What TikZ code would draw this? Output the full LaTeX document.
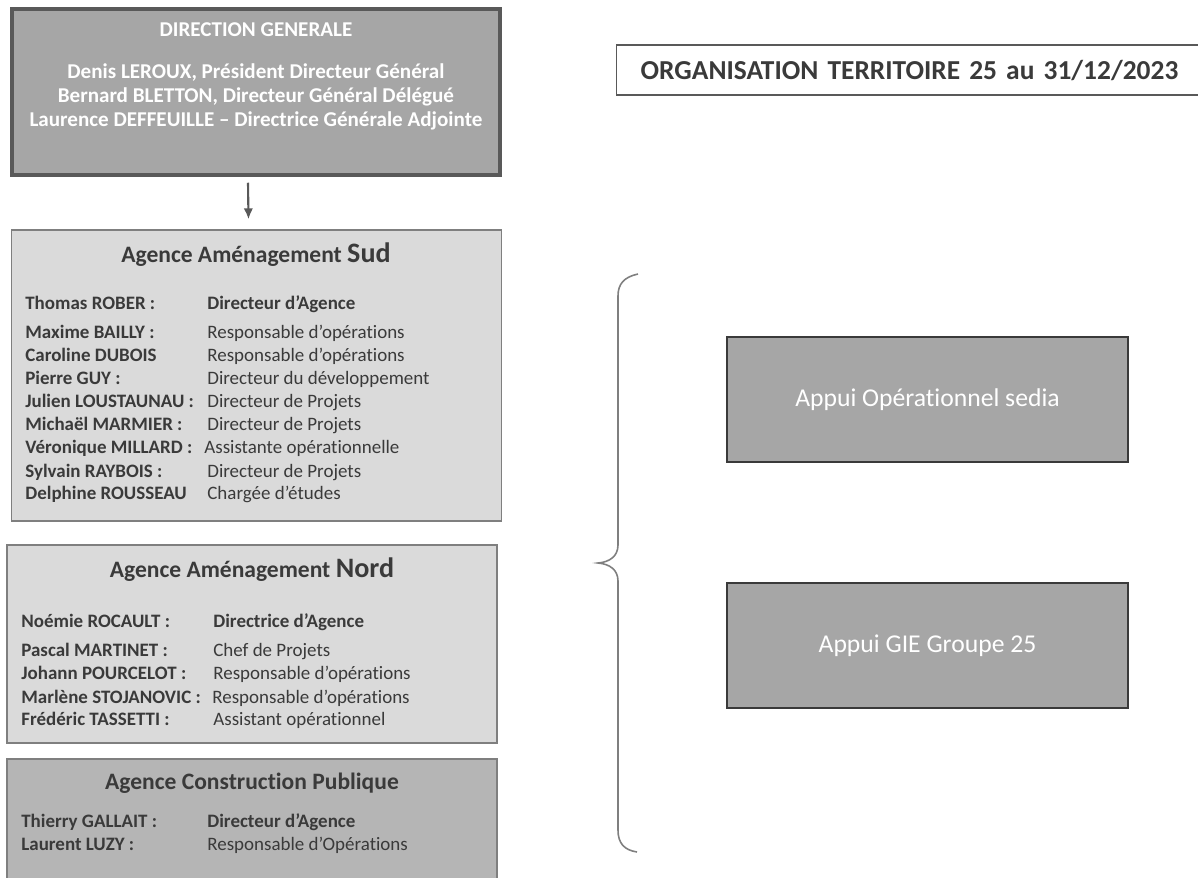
\documentclass[tikz,border=0pt]{standalone}
\usepackage{fontspec}
\setmainfont{Carlito}[Ligatures=NoCommon]
\usetikzlibrary{arrows.meta}
\definecolor{dgfill}{HTML}{A6A6A6}
\definecolor{dgline}{HTML}{595959}
\definecolor{palefill}{HTML}{DADADA}
\definecolor{midfill}{HTML}{B5B5B5}
\definecolor{boxline}{HTML}{7F7F7F}
\definecolor{ink}{HTML}{3A3A3A}
\begin{document}
\begin{tikzpicture}[x=0.02cm,y=-0.02cm,
		agence/.style={draw=boxline,line width=0.8pt,rectangle,inner sep=0pt,minimum width=9.8cm},
		appui/.style={draw=ink,line width=1.1pt,fill=dgfill,rectangle,minimum width=8.02cm,minimum height=2.5cm,text=white,font=\fontsize{14.6}{17}\selectfont},
		head/.style={inner sep=0pt,text=ink,font=\fontsize{13.4}{16}\selectfont\bfseries},
		nom/.style={anchor=west,inner sep=0pt,text height=.90em,text depth=.30em,text=ink,font=\fontsize{10.8}{13}\selectfont\bfseries},
		fct/.style={anchor=west,inner sep=0pt,text height=.90em,text depth=.30em,text=ink,font=\fontsize{10.8}{13}\selectfont}]
		\useasboundingbox (0,0) rectangle (1198,877);
		% direction
		\node (dg) at (256, 92) [draw=dgline,line width=2pt,fill=dgfill,rectangle,minimum width=9.76cm,minimum height=3.32cm] {};
		\node (dgtitre) at (256, 30) [text=white,font=\fontsize{12}{14}\selectfont\bfseries] {DIRECTION GENERALE};
		\node (dgnoms) at (256, 97) [text=white,align=center,font=\fontsize{12}{13.6}\selectfont\bfseries] {Denis LEROUX, Président Directeur Général\\Bernard BLETTON, Directeur Général Délégué\\Laurence DEFFEUILLE -- Directrice Générale Adjointe};
		% agences
		\node (sud) at (256.5, 375.5) [agence,fill=palefill,minimum height=5.82cm] {};
		\node (nord) at (252, 644) [agence,fill=palefill,minimum height=3.96cm] {};
		\node (cp) at (252, 824.5) [agence,fill=midfill,minimum height=2.62cm] {};
		\draw[dgline,line width=1.2pt,-{Latex[length=2.2mm,width=1.9mm]}] ([xshift=-0.16cm,yshift=-0.12cm]dg.south)--([xshift=-0.16cm,yshift=0.2cm]sud.north);
		% sud
		\node (sudtitre) at (256, 255) [head] {Agence Aménagement {\fontsize{16}{18}\selectfont Sud}};
		\node (sudn1) at (25, 304) [nom] {Thomas ROBER :};
		\node (sudf1) at (207, 304) [nom] {Directeur d’Agence};
		\node (sudn2) at (25, 333) [nom] {Maxime BAILLY :};
		\node (sudf2) at (207, 333) [fct] {Responsable d’opérations};
		\node (sudn3) at (25, 356) [nom] {Caroline DUBOIS};
		\node (sudf3) at (207, 356) [fct] {Responsable d’opérations};
		\node (sudn4) at (25, 379) [nom] {Pierre GUY :};
		\node (sudf4) at (207, 379) [fct] {Directeur du développement};
		\node (sudn5) at (25, 402) [nom] {Julien LOUSTAUNAU :};
		\node (sudf5) at (207, 402) [fct] {Directeur de Projets};
		\node (sudn6) at (25, 425) [nom] {Michaël MARMIER :};
		\node (sudf6) at (207, 425) [fct] {Directeur de Projets};
		\node (sudn7) at (25, 448) [nom] {Véronique MILLARD :};
		\node (sudf7) at (204, 448) [fct] {Assistante opérationnelle};
		\node (sudn8) at (25, 472) [nom] {Sylvain RAYBOIS :};
		\node (sudf8) at (207, 472) [fct] {Directeur de Projets};
		\node (sudn9) at (25, 494) [nom] {Delphine ROUSSEAU};
		\node (sudf9) at (207, 494) [fct] {Chargée d’études};
		% nord
		\node (nordtitre) at (252, 570) [head] {Agence Aménagement {\fontsize{16}{18}\selectfont Nord}};
		\node (nordn1) at (21, 622) [nom] {Noémie ROCAULT :};
		\node (nordf1) at (213, 622) [nom] {Directrice d’Agence};
		\node (nordn2) at (21, 651) [nom] {Pascal MARTINET :};
		\node (nordf2) at (213, 651) [fct] {Chef de Projets};
		\node (nordn3) at (21, 674) [nom] {Johann POURCELOT :};
		\node (nordf3) at (213, 674) [fct] {Responsable d’opérations};
		\node (nordn4) at (21, 698) [nom] {Marlène STOJANOVIC :};
		\node (nordf4) at (212, 698) [fct] {Responsable d’opérations};
		\node (nordn5) at (21, 720) [nom] {Frédéric TASSETTI :};
		\node (nordf5) at (213, 720) [fct] {Assistant opérationnel};
		% construction publique
		\node (cptitre) at (252, 783) [head] {Agence Construction Publique};
		\node (cpn1) at (21, 822) [nom] {Thierry GALLAIT :};
		\node (cpf1) at (207, 822) [nom] {Directeur d’Agence};
		\node (cpn2) at (21, 845) [nom] {Laurent LUZY :};
		\node (cpf2) at (207, 845) [fct] {Responsable d’Opérations};
		% droite
		\node (titre) at (616, 70) [draw=dgline,line width=0.8pt,anchor=west,rectangle,inner xsep=0.48cm,text width=11.5cm,minimum height=1cm,align=left,text=ink,font=\fontsize{15.6}{18}\selectfont\bfseries] {ORGANISATION TERRITOIRE 25 au 31/12/2023};
		\draw[boxline,line width=0.9pt] (638,274) .. controls (624,277) and (618,284) .. (618,296)--(618,545) .. controls (618,556) and (610,562) .. (598,563) .. controls (610,564) and (618,570) .. (618,581)--(618,830) .. controls (618,843) and (624,850) .. (637,852);
		\node (sedia) at (927.5, 399.5) [appui] {Appui Opérationnel sedia};
		\node (gie) at (927.5, 645.5) [appui] {Appui GIE Groupe 25};
	\end{tikzpicture}
\end{document}
